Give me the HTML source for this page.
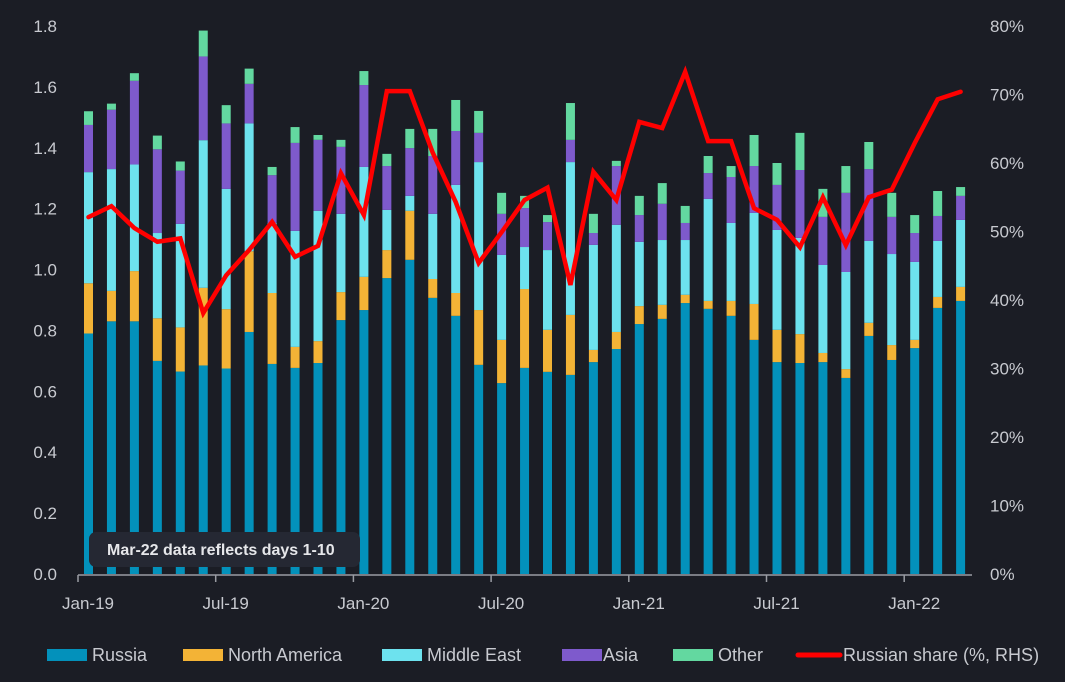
<!DOCTYPE html>
<html><head><meta charset="utf-8"><style>
html,body{margin:0;padding:0;background:#1b1d25;}
svg{display:block;font-family:"Liberation Sans",sans-serif;}
</style></head><body>
<svg id="chart" width="1065" height="682" viewBox="0 0 1065 682">
<rect width="1065" height="682" fill="#1b1d25"/>
<g id="yl"></g>
<g id="yr"></g>
<g id="bars"></g>
<g id="xa"></g>
<g id="ln"></g>
<g>
<rect x="89" y="532" width="271" height="35" rx="7" fill="#252833"/>
<text x="107" y="555" fill="#e6e7ea" font-size="16" font-weight="bold">Mar-22 data reflects days 1-10</text>
</g>
<g id="legend" font-size="18" fill="#c8cad0">
<g><rect x="47" y="649" width="40" height="12" fill="#0391bb"/><text x="92" y="661">Russia</text></g>
<g><rect x="183" y="649" width="40" height="12" fill="#f3b336"/><text x="228" y="661">North America</text></g>
<g><rect x="382" y="649" width="40" height="12" fill="#6de2ee"/><text x="427" y="661">Middle East</text></g>
<g><rect x="562" y="649" width="40" height="12" fill="#7e5acc"/><text x="603" y="661">Asia</text></g>
<g><rect x="673" y="649" width="40" height="12" fill="#63d8a0"/><text x="718" y="661">Other</text></g>
<g><line x1="798" y1="655" x2="840" y2="655" stroke="#ff0000" stroke-width="5" stroke-linecap="round"/><text x="843" y="661">Russian share (%, RHS)</text></g>
</g>
</svg>
<script>
const months = ["Jan-19","Feb-19","Mar-19","Apr-19","May-19","Jun-19","Jul-19","Aug-19","Sep-19","Oct-19","Nov-19","Dec-19","Jan-20","Feb-20","Mar-20","Apr-20","May-20","Jun-20","Jul-20","Aug-20","Sep-20","Oct-20","Nov-20","Dec-20","Jan-21","Feb-21","Mar-21","Apr-21","May-21","Jun-21","Jul-21","Aug-21","Sep-21","Oct-21","Nov-21","Dec-21","Jan-22","Feb-22","Mar-22"];
const russia = [0.79,0.83,0.83,0.70,0.665,0.685,0.675,0.795,0.69,0.677,0.693,0.834,0.867,0.972,1.032,0.907,0.848,0.687,0.627,0.677,0.664,0.654,0.696,0.739,0.821,0.838,0.890,0.871,0.848,0.769,0.696,0.693,0.696,0.644,0.782,0.703,0.742,0.874,0.897];
const northAmerica = [0.165,0.10,0.165,0.14,0.145,0.255,0.195,0.265,0.233,0.069,0.072,0.092,0.109,0.092,0.161,0.062,0.075,0.18,0.142,0.259,0.138,0.197,0.04,0.056,0.059,0.046,0.027,0.026,0.049,0.118,0.106,0.095,0.03,0.029,0.043,0.049,0.027,0.036,0.046];
const middleEast = [0.365,0.40,0.35,0.28,0.34,0.485,0.395,0.42,0.23,0.381,0.428,0.257,0.361,0.132,0.049,0.214,0.355,0.486,0.279,0.138,0.262,0.502,0.345,0.352,0.211,0.213,0.18,0.335,0.256,0.299,0.328,0.316,0.289,0.319,0.269,0.299,0.256,0.184,0.22];
const asia = [0.155,0.195,0.275,0.275,0.175,0.275,0.215,0.13,0.157,0.289,0.233,0.22,0.269,0.144,0.157,0.19,0.177,0.096,0.135,0.128,0.092,0.073,0.039,0.193,0.088,0.119,0.056,0.085,0.151,0.154,0.148,0.223,0.158,0.26,0.236,0.122,0.095,0.082,0.079];
const other = [0.045,0.02,0.025,0.045,0.03,0.085,0.06,0.05,0.027,0.052,0.016,0.023,0.046,0.04,0.063,0.089,0.102,0.072,0.069,0.04,0.023,0.121,0.063,0.017,0.063,0.068,0.056,0.056,0.036,0.102,0.072,0.122,0.092,0.088,0.089,0.079,0.059,0.082,0.029];
const share = [52.1,53.7,50.5,48.5,49.0,38.1,43.6,47.3,51.4,46.3,47.9,58.5,52.4,70.5,70.5,61.5,54.3,45.4,49.9,54.6,56.4,42.2,58.7,54.6,66.0,65.1,73.3,63.2,63.2,53.4,51.7,47.7,55.0,48.0,55.0,56.1,62.9,69.3,70.4];
const leftTicks = [0,0.2,0.4,0.6,0.8,1.0,1.2,1.4,1.6,1.8];
const rightTicks = [0,10,20,30,40,50,60,70,80];
const xTickLabels = ["Jan-19","Jul-19","Jan-20","Jul-20","Jan-21","Jul-21","Jan-22"];
const xTickIdx = [0,6,12,18,24,30,36];

const NS="http://www.w3.org/2000/svg";
const y0=574, yTop=26, x0=78, step=22.95;
const yL=v=>y0-(v/1.8)*(y0-yTop);
const yR=p=>y0-(p/80)*(y0-yTop);
const xC=i=>x0+10.5+i*step;
function mk(tag,attrs,parent){const e=document.createElementNS(NS,tag);for(const k in attrs)e.setAttribute(k,attrs[k]);parent.appendChild(e);return e;}

const yl=document.getElementById('yl');
leftTicks.forEach(v=>{const t=mk('text',{x:57,y:yL(v)+6,'text-anchor':'end','font-size':17,fill:'#c8cad0'},yl);t.textContent=v.toFixed(1);

});
const yr=document.getElementById('yr');
rightTicks.forEach(v=>{const t=mk('text',{x:990,y:yR(v)+6,'font-size':17,fill:'#c8cad0'},yr);t.textContent=v+'%';

});

const bars=document.getElementById('bars');
const series=[[russia,'#0391bb','russia'],[northAmerica,'#f3b336','north-america'],[middleEast,'#6de2ee','middle-east'],[asia,'#7e5acc','asia'],[other,'#63d8a0','other']];
months.forEach((m,i)=>{let cum=0;series.forEach(([arr,col,nm])=>{const v=arr[i];const r=mk('rect',{x:xC(i)-4.5,y:yL(cum+v),width:9,height:yL(cum)-yL(cum+v),fill:col},bars);


cum+=v;});});

const xa=document.getElementById('xa');
const ax=mk('line',{x1:x0,y1:575,x2:972,y2:575,stroke:'#9a9ca3','stroke-width':1.5},xa);


xTickIdx.forEach((idx,k)=>{const tx=x0+idx*step;mk('line',{x1:tx,y1:575,x2:tx,y2:582,stroke:'#9a9ca3','stroke-width':1.5},xa);
const t=mk('text',{x:tx+10,y:609,'text-anchor':'middle','font-size':17,fill:'#c8cad0'},xa);t.textContent=xTickLabels[k];

});

const ln=document.getElementById('ln');
const pl=mk('polyline',{points:share.map((p,i)=>xC(i)+','+yR(p)).join(' '),fill:'none',stroke:'#ff0000','stroke-width':4.5,'stroke-linejoin':'miter','stroke-linecap':'round'},ln);


</script>
</body></html>
